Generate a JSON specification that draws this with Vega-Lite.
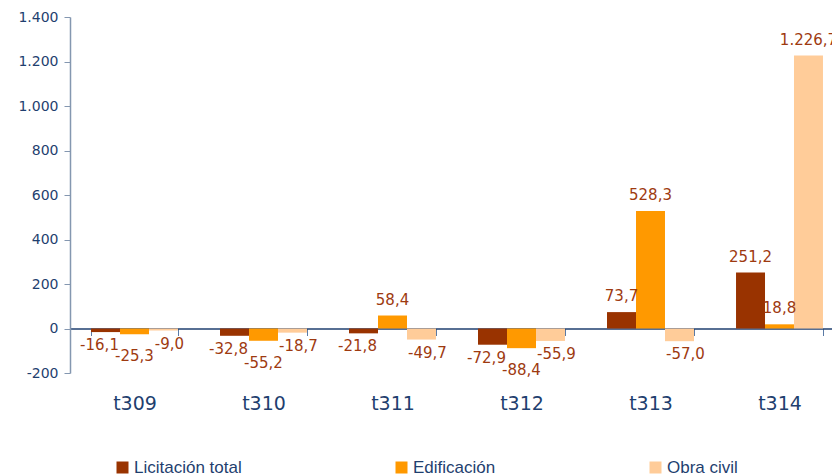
{
  "$schema": "https://vega.github.io/schema/vega-lite/v6.json",
  "width": 774,
  "height": 356,
  "autosize": {"type": "none"},
  "padding": {"left": 70, "top": 17, "right": 0, "bottom": 102},
  "background": "white",
  "config": {
    "locale": {"number": {"decimal": ",", "thousands": ".", "grouping": [3], "currency": ["", " €"], "minus": "-"}},
    "view": {"stroke": null},
    "font": "DejaVu Sans"
  },
  "data": {
    "values": [
      {"periodo": "t309", "serie": "Licitación total", "valor": -16.1},
      {"periodo": "t309", "serie": "Edificación", "valor": -25.3},
      {"periodo": "t309", "serie": "Obra civil", "valor": -9.0},
      {"periodo": "t310", "serie": "Licitación total", "valor": -32.8},
      {"periodo": "t310", "serie": "Edificación", "valor": -55.2},
      {"periodo": "t310", "serie": "Obra civil", "valor": -18.7},
      {"periodo": "t311", "serie": "Licitación total", "valor": -21.8},
      {"periodo": "t311", "serie": "Edificación", "valor": 58.4},
      {"periodo": "t311", "serie": "Obra civil", "valor": -49.7},
      {"periodo": "t312", "serie": "Licitación total", "valor": -72.9},
      {"periodo": "t312", "serie": "Edificación", "valor": -88.4},
      {"periodo": "t312", "serie": "Obra civil", "valor": -55.9},
      {"periodo": "t313", "serie": "Licitación total", "valor": 73.7},
      {"periodo": "t313", "serie": "Edificación", "valor": 528.3},
      {"periodo": "t313", "serie": "Obra civil", "valor": -57.0},
      {"periodo": "t314", "serie": "Licitación total", "valor": 251.2},
      {"periodo": "t314", "serie": "Edificación", "valor": 18.8},
      {"periodo": "t314", "serie": "Obra civil", "valor": 1226.7}
    ]
  },
  "encoding": {
    "x": {
      "field": "periodo",
      "type": "nominal",
      "sort": null,
      "scale": {"paddingInner": 0.326, "paddingOuter": 0.163},
      "axis": {
        "title": null,
        "orient": "bottom",
        "offset": -44.5,
        "labelAngle": 0,
        "labelFont": "DejaVu Sans",
        "labelFontSize": 19,
        "labelColor": "#1F3F6F",
        "labelPadding": 59,
        "domainColor": "#1F3F6F",
        "domainWidth": 1.5,
        "tickColor": "#5A7AA5",
        "tickSize": 7,
        "tickBand": "extent",
        "grid": false
      }
    },
    "xOffset": {
      "field": "serie",
      "type": "nominal",
      "sort": ["Licitación total", "Edificación", "Obra civil"],
      "scale": {"paddingInner": 0, "paddingOuter": 0}
    },
    "y": {
      "field": "valor",
      "type": "quantitative",
      "scale": {"domain": [-200, 1400], "nice": false, "zero": false},
      "axis": {
        "title": null,
        "values": [-200, 0, 200, 400, 600, 800, 1000, 1200, 1400],
        "format": ",.0f",
        "labelFont": "DejaVu Sans",
        "labelFontSize": 14,
        "labelColor": "#1F3F6F",
        "labelPadding": 6,
        "domainColor": "#8497B0",
        "domainWidth": 1.5,
        "tickColor": "#8497B0",
        "tickSize": 6,
        "grid": false
      }
    }
  },
  "layer": [
    {
      "mark": {"type": "bar", "opacity": 1},
      "encoding": {
        "color": {
          "field": "serie",
          "type": "nominal",
          "sort": ["Licitación total", "Edificación", "Obra civil"],
          "scale": {
            "domain": ["Licitación total", "Edificación", "Obra civil"],
            "range": ["#993300", "#FF9900", "#FFCC99"]
          },
          "legend": {
            "title": null,
            "orient": "none",
            "legendX": 44,
            "legendY": 442,
            "direction": "horizontal",
            "columns": 3,
            "columnPadding": 151,
            "gridAlign": "none",
            "symbolType": "square",
            "symbolSize": 144,
            "symbolStrokeWidth": 0,
            "symbolOpacity": 1,
            "labelFont": "Liberation Sans",
            "labelFontSize": 17,
            "labelColor": "#1F3F6F",
            "labelOffset": 3
          }
        }
      }
    },
    {
      "transform": [{"filter": "datum.valor >= 0"}],
      "mark": {"type": "text", "dy": -16, "baseline": "middle", "align": "center", "font": "DejaVu Sans", "fontSize": 15, "color": "#9E3A10"},
      "encoding": {"text": {"field": "valor", "type": "quantitative", "format": ",.1f"}}
    },
    {
      "transform": [{"filter": "datum.valor < 0 && datum.serie == 'Licitación total'"}],
      "mark": {"type": "text", "dy": 13, "dx": -6, "baseline": "middle", "align": "center", "font": "DejaVu Sans", "fontSize": 15, "color": "#9E3A10"},
      "encoding": {"text": {"field": "valor", "type": "quantitative", "format": ",.1f"}}
    },
    {
      "transform": [{"filter": "datum.valor < 0 && datum.serie == 'Edificación'"}],
      "mark": {"type": "text", "dy": 22, "baseline": "middle", "align": "center", "font": "DejaVu Sans", "fontSize": 15, "color": "#9E3A10"},
      "encoding": {"text": {"field": "valor", "type": "quantitative", "format": ",.1f"}}
    },
    {
      "transform": [{"filter": "datum.valor < 0 && datum.serie == 'Obra civil'"}],
      "mark": {"type": "text", "dy": 13, "dx": 6, "baseline": "middle", "align": "center", "font": "DejaVu Sans", "fontSize": 15, "color": "#9E3A10"},
      "encoding": {"text": {"field": "valor", "type": "quantitative", "format": ",.1f"}}
    }
  ]
}
